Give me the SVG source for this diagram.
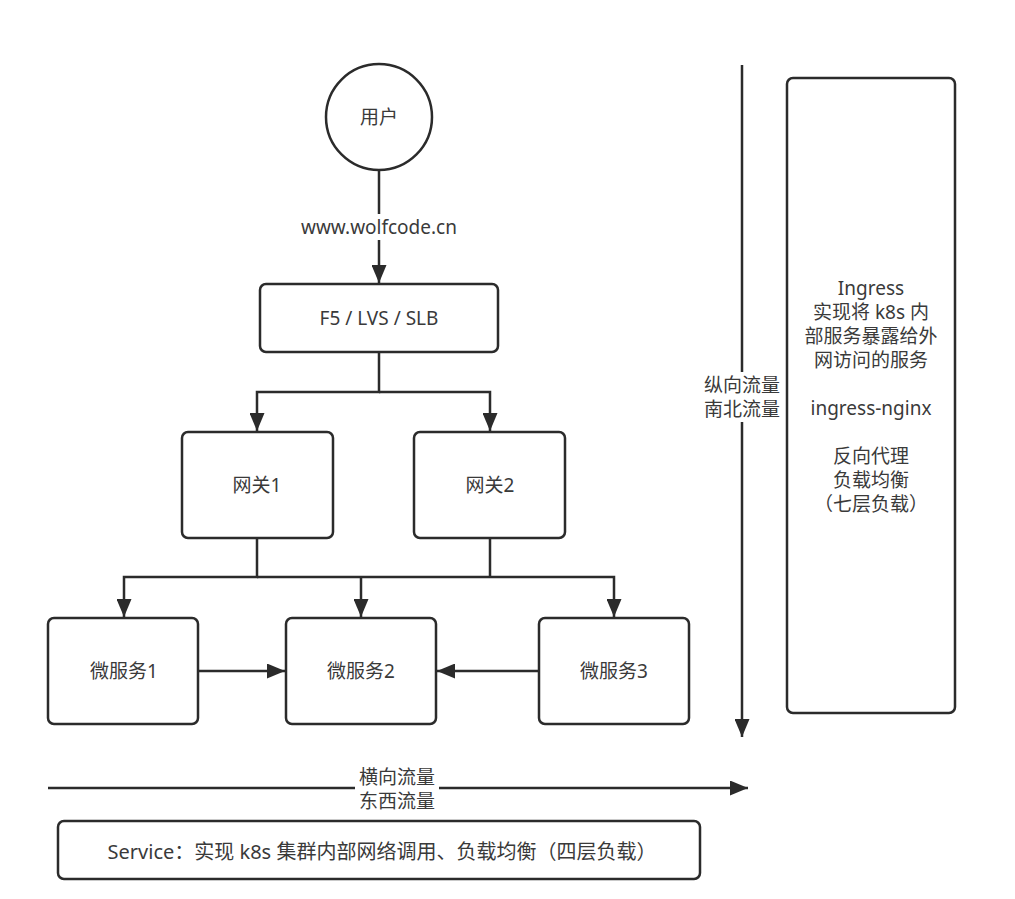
<svg xmlns="http://www.w3.org/2000/svg" width="1015" height="899" viewBox="0 0 1015 899">
<style>
.box{fill:#fff;stroke:#2b2b2b;stroke-width:2.5}
.ln{fill:none;stroke:#2b2b2b;stroke-width:2.5}
text{font-family:"Noto Sans","Noto Sans CJK SC",sans-serif;font-size:19px;fill:#3a3a3a;text-anchor:middle;dominant-baseline:central}
.bg{fill:#fff;stroke:none}
</style>
<defs>
<marker id="arr" markerUnits="userSpaceOnUse" markerWidth="18" markerHeight="15" viewBox="0 0 18 15" refX="18" refY="7.5" orient="auto">
<path d="M0,0 L18,7.5 L0,15 Z" fill="#2b2b2b"/>
</marker>
</defs>
<rect width="1015" height="899" fill="#fff"/>
<g id="connectors">
<path class="ln" d="M379,170 V283" marker-end="url(#arr)"/>
<rect class="bg" x="294" y="214" width="172" height="26"/>
<text x="379" y="227">www.wolfcode.cn</text>
<path class="ln" d="M379,352 V392 H257 V431" marker-end="url(#arr)"/>
<path class="ln" d="M379,392 H490 V431" marker-end="url(#arr)"/>
<path class="ln" d="M257,538 V577 H124 V617" marker-end="url(#arr)"/>
<path class="ln" d="M257,577 H614 V617" marker-end="url(#arr)"/>
<path class="ln" d="M490,538 V577"/>
<path class="ln" d="M361,577 V617" marker-end="url(#arr)"/>
<path class="ln" d="M199,671 H285" marker-end="url(#arr)"/>
<path class="ln" d="M539,671 H437" marker-end="url(#arr)"/>
<path class="ln" d="M742,65 V737" marker-end="url(#arr)"/>
<rect class="bg" x="701" y="372" width="82" height="50"/>
<text x="742" y="385">纵向流量</text>
<text x="742" y="409">南北流量</text>
<path class="ln" d="M48,788 H748" marker-end="url(#arr)"/>
<rect class="bg" x="355" y="765" width="84" height="48"/>
<text x="397" y="777">横向流量</text>
<text x="397" y="801">东西流量</text>
</g>
<g id="user">
<circle class="box" cx="379" cy="117" r="53"/>
<text x="379" y="117">用户</text>
</g>
<g id="lb">
<rect class="box" x="260" y="284" width="238" height="68" rx="6"/>
<text x="379" y="318">F5 / LVS / SLB</text>
</g>
<g id="gw1">
<rect class="box" x="182" y="432" width="151" height="106" rx="6"/>
<text x="257" y="485">网关1</text>
</g>
<g id="gw2">
<rect class="box" x="414" y="432" width="151" height="106" rx="6"/>
<text x="490" y="485">网关2</text>
</g>
<g id="ms1">
<rect class="box" x="48" y="618" width="150" height="106" rx="6"/>
<text x="124" y="671">微服务1</text>
</g>
<g id="ms2">
<rect class="box" x="286" y="618" width="150" height="106" rx="6"/>
<text x="361" y="671">微服务2</text>
</g>
<g id="ms3">
<rect class="box" x="539" y="618" width="150" height="106" rx="6"/>
<text x="614" y="671">微服务3</text>
</g>
<g id="ingress">
<rect class="box" x="787" y="78" width="168" height="635" rx="6"/>
<text x="871" y="288">Ingress</text>
<text x="871" y="312">实现将 k8s 内</text>
<text x="871" y="336">部服务暴露给外</text>
<text x="871" y="360">网访问的服务</text>
<text x="871" y="408">ingress-nginx</text>
<text x="871" y="456">反向代理</text>
<text x="871" y="480">负载均衡</text>
<text x="871" y="504">（七层负载）</text>
</g>
<g id="service">
<rect class="box" x="58" y="821" width="642" height="58" rx="6"/>
<text x="382" y="851" style="font-size:20px">Service：实现 k8s 集群内部网络调用、负载均衡（四层负载）</text>
</g>
</svg>
